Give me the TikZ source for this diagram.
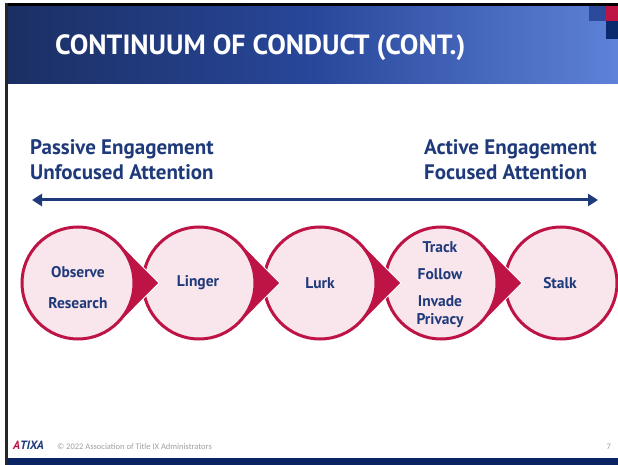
\documentclass[tikz,border=0pt]{standalone}
\usepackage{fontspec}
\setmainfont{PT Sans}
\newfontfamily\footfont{Carlito}
\usetikzlibrary{arrows.meta}
\definecolor{navy}{HTML}{1F3A7A}
\definecolor{crimson}{HTML}{BE1445}
\definecolor{pinkfill}{HTML}{F9E5EC}
\definecolor{hdrL}{HTML}{1B2F63}
\definecolor{hdrM}{HTML}{28479A}
\definecolor{hdrR}{HTML}{5E82D8}
\definecolor{sqblue}{HTML}{2B4A9C}
\definecolor{sqnavy}{HTML}{0B2A6E}
\definecolor{bandnavy}{HTML}{0A2463}
\definecolor{footgray}{HTML}{A0A0A0}
\tikzset{
  stagecircle/.style={fill=pinkfill, draw=crimson, line width=3pt},
  stagetip/.style={fill=crimson, draw=white, line width=0.8pt, line join=miter},
  stagetext/.style={text=navy, font=\fontsize{15.5}{17}\selectfont\bfseries, inner sep=0pt},
  sidetext/.style={text=navy, font=\fontsize{21}{23}\selectfont\bfseries, inner sep=0pt, anchor=base west},
  titletext/.style={text=white, font=\fontsize{27.8}{30}\selectfont\bfseries, inner sep=0pt, anchor=base west},
  foottext/.style={text=footgray, font=\footfont\fontsize{8.5}{9}\selectfont, inner sep=0pt}
}
\begin{document}
\begin{tikzpicture}[x=1pt,y=-1pt]
\useasboundingbox (0,0) rectangle (618,465);
\fill[white] (0,0) rectangle (618,465);
% header
\shade[left color=hdrL, right color=hdrR, middle color=hdrM] (7,6) rectangle (618,84);
\fill[black] (5,3) rectangle (618,6);
\fill[black!85] (5,3) rectangle (7.5,465);
\fill[sqblue] (589,6) rectangle (606,21);
\fill[crimson] (606,6) rectangle (618,21);
\fill[sqnavy] (606,21) rectangle (618,39);
\node[titletext] (title) at (55,55) {CONTINUUM OF CONDUCT (CONT.)};
% side labels
\node[sidetext] (pe) at (30,155) {Passive Engagement};
\node[sidetext] (ua) at (30,179) {Unfocused Attention};
\node[sidetext] (ae) at (424,155) {Active Engagement};
\node[sidetext] (fa) at (424,179) {Focused Attention};
% continuum arrow
\coordinate (arrL) at (32,200);
\coordinate (arrR) at (598,200);
\draw[navy, line width=3pt, {Triangle[length=10pt,width=12pt]}-{Triangle[length=10pt,width=12pt]}] (arrL) -- (arrR);
% stages, drawn right to left
\node[stagecircle, circle, minimum size=112pt, inner sep=0pt] (c5) at (561,283) {};
\foreach \cx/\nm in {441/c4,320/c3,199/c2,78/c1}{
  \fill[stagetip] (\cx+40.6,242.5) -- (\cx+81,283) -- (\cx+40.6,323.5) -- cycle;
  \node[stagecircle, circle, minimum size=112pt, inner sep=0pt] (\nm) at (\cx,283) {};
}
\node[stagetext] (t1a) at (78,272) {Observe};
\node[stagetext] (t1b) at (78,303) {Research};
\node[stagetext] (t2) at (198,283) {Linger};
\node[stagetext] (t3) at (320,283) {Lurk};
\node[stagetext] (t4a) at (440,247) {Track};
\node[stagetext] (t4b) at (440,274) {Follow};
\node[stagetext] (t4c) at (440,301) {Invade};
\node[stagetext] (t4d) at (440,321) {Privacy};
\node[stagetext] (t5) at (560,283) {Stalk};
% footer
\node[inner sep=0pt, font=\fontsize{12}{12}\selectfont\bfseries\itshape] (logo) at (28.5,445) {\textcolor{crimson}{A}\textcolor{navy}{TIXA}};
\node[foottext, anchor=base west] (copy) at (57,449) {© 2022 Association of Title IX Administrators};
\node[foottext, anchor=base east] (pg) at (611,449) {7};
\fill[bandnavy] (7.5,458) rectangle (618,465);
\end{tikzpicture}
\end{document}
